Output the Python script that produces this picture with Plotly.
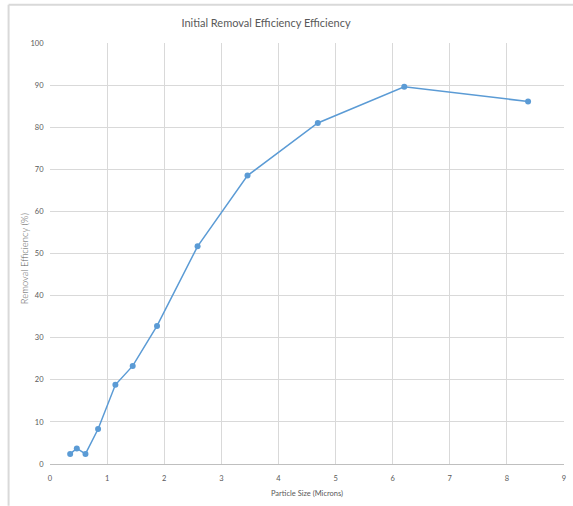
import plotly.graph_objects as go

particle_size = [0.353, 0.469, 0.621, 0.842, 1.145, 1.448, 1.874, 2.584, 3.458, 4.689, 6.203, 8.371]
removal_eff = [2.4, 3.7, 2.4, 8.3, 18.8, 23.3, 32.8, 51.7, 68.5, 81.0, 89.6, 86.1]

x_ticks = [0, 1, 2, 3, 4, 5, 6, 7, 8, 9]
y_ticks = [0, 10, 20, 30, 40, 50, 60, 70, 80, 90, 100]

FONT = "Lato, Open Sans, sans-serif"
GRID = "#d9d9d9"
TXT = "#595959"
CLEAR = "rgba(0,0,0,0)"

fig = go.Figure()
fig.add_trace(go.Scatter(
    x=particle_size, y=removal_eff, mode="lines+markers",
    line=dict(color="#5b9bd5", width=1.5),
    marker=dict(color="#5b9bd5", size=6),
    showlegend=False,
))

L, R, T, B = 49.5, 8.5, 43.3, 41.7
W, H = 573, 506
pw, ph = W - L - R, H - T - B

fig.update_layout(
    width=W, height=H,
    margin=dict(l=L, r=R, t=T, b=B, pad=0),
    paper_bgcolor="white", plot_bgcolor="white",
    title=dict(text="Initial Removal Efficiency Efficiency", x=266 / W,
               xanchor="center", y=1 - 23 / H, yanchor="middle",
               font=dict(family=FONT, size=11, color=TXT)),
    xaxis=dict(range=[0, 9], tickvals=x_ticks, ticktext=[str(v) for v in x_ticks],
               showgrid=True, gridcolor=GRID, gridwidth=1, zeroline=False, automargin=False,
               showline=True, linecolor="#bfbfbf", linewidth=1,
               ticks="outside", ticklen=7, tickcolor=CLEAR,
               tickfont=dict(family=FONT, size=7.5, color=TXT),
               title=dict(text="Particle Size (Microns)", standoff=8,
                          font=dict(family=FONT, size=7.5, color=TXT))),
    yaxis=dict(range=[0, 100], tickvals=y_ticks, ticktext=[str(v) for v in y_ticks],
               showgrid=True, gridcolor=GRID, gridwidth=1, zeroline=False, automargin=False,
               showline=False, ticks="outside", ticklen=4, tickcolor=CLEAR,
               tickfont=dict(family=FONT, size=7.5, color=TXT)),
    annotations=[
        dict(text="Removal Efficiency (%)", textangle=-90, showarrow=False,
             xref="paper", yref="paper", x=(24 - L) / pw, y=(464.3 - 259) / ph,
             xanchor="center", yanchor="middle",
             font=dict(family=FONT, size=9.5, color=TXT, weight=300)),
    ],
    shapes=[
        dict(type="line", xref="paper", yref="paper",
             x0=(8 - L) / pw, x1=(8 - L) / pw, y0=(H - B - 506) / ph, y1=(H - B - 5) / ph,
             line=dict(color=GRID, width=2)),
        dict(type="line", xref="paper", yref="paper",
             x0=(8 - L) / pw, x1=(575 - L) / pw, y0=(H - B - 5) / ph, y1=(H - B - 5) / ph,
             line=dict(color=GRID, width=2)),
    ],
)

fig.write_html("out.html", config={"displayModeBar": False},
               post_script="document.body.style.margin='0';")
